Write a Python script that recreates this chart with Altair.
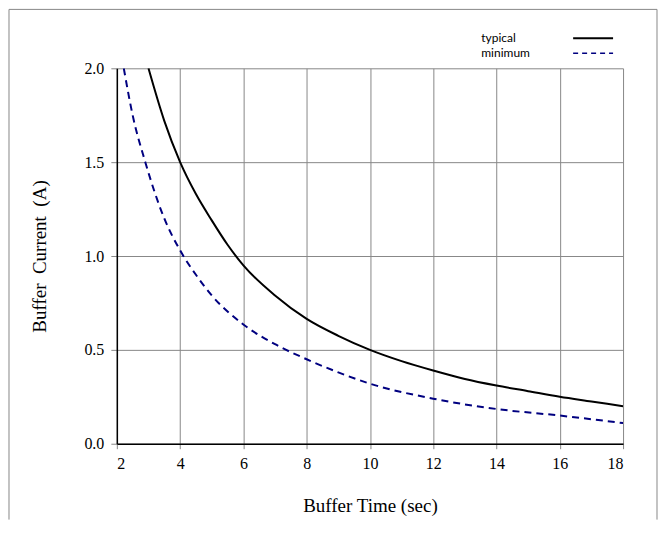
import altair as alt
import pandas as pd

# typical curve
typ_t = [3.0, 3.5, 4.0, 4.5, 5.0, 5.5, 6.0, 7.0, 8.0, 9.0, 10.0, 11.0, 12.0, 13.0, 14.0, 15.0, 16.0, 17.0, 18.0]
typ_i = [2.0, 1.72, 1.5, 1.33, 1.19, 1.06, 0.95, 0.79, 0.665, 0.575, 0.5, 0.44, 0.39, 0.345, 0.31, 0.28, 0.25, 0.225, 0.2]

# minimum curve
min_t = [2.22, 2.5, 2.9, 3.5, 4.0, 4.5, 5.0, 6.0, 7.0, 8.0, 9.0, 10.0, 12.0, 14.0, 16.0, 18.0]
min_i = [2.0, 1.75, 1.5, 1.2, 1.03, 0.9, 0.79, 0.635, 0.53, 0.45, 0.38, 0.32, 0.24, 0.185, 0.15, 0.11]

x_ticks = [2, 4, 6, 8, 10, 12, 14, 16, 18]
y_ticks = [0.0, 0.5, 1.0, 1.5, 2.0]
legend_names = ["typical", "minimum"]

df_typ = pd.DataFrame({"t": typ_t, "i": typ_i})
df_min = pd.DataFrame({"t": min_t, "i": min_i})
one = pd.DataFrame({"a": [0]})

W, H = 507, 376
SERIF = "Liberation Serif"

xenc = alt.X("t:Q", scale=alt.Scale(domain=[2, 18], nice=False, zero=False),
             axis=alt.Axis(values=x_ticks, title="Buffer Time (sec)", titlePadding=25,
                           labelPadding=7, format="d", tickSize=5))
yenc = alt.Y("i:Q", scale=alt.Scale(domain=[0, 2], nice=False),
             axis=alt.Axis(values=y_ticks, title="Buffer\u00a0\u00a0Current\u00a0\u00a0(A)", titlePadding=34,
                           format=".1f", labelPadding=7, tickSize=6))

typ_line = alt.Chart(df_typ).mark_line(color="black", strokeWidth=2, clip=True,
                                       interpolate="monotone").encode(x=xenc, y=yenc)
min_line = alt.Chart(df_min).mark_line(color="#000080", strokeWidth=2, strokeDash=[7, 5], clip=True,
                                       interpolate="monotone").encode(x="t:Q", y="i:Q")

# outer frame (left, top, right)
frame_col = "#888888"
f_left = alt.Chart(one).mark_rule(color=frame_col, strokeWidth=1).encode(
    x=alt.value(-108), y=alt.value(-59), y2=alt.value(452))
f_top = alt.Chart(one).mark_rule(color=frame_col, strokeWidth=1).encode(
    x=alt.value(-108), x2=alt.value(541), y=alt.value(-59))
f_right = alt.Chart(one).mark_rule(color=frame_col, strokeWidth=1).encode(
    x=alt.value(541), y=alt.value(-59), y2=alt.value(452))

# legend
leg_font = "Lato"
leg_t1 = alt.Chart(one).mark_text(text=legend_names[0], font=leg_font, fontSize=12, align="left",
                                  baseline="middle", color="black").encode(
    x=alt.value(365), y=alt.value(-30))
leg_t2 = alt.Chart(one).mark_text(text=legend_names[1], font=leg_font, fontSize=12, align="left",
                                  baseline="middle", color="black").encode(
    x=alt.value(365), y=alt.value(-15))
leg_l1 = alt.Chart(one).mark_rule(color="black", strokeWidth=2).encode(
    x=alt.value(457), x2=alt.value(497), y=alt.value(-30))
leg_l2 = alt.Chart(one).mark_rule(color="#000080", strokeWidth=1.5, strokeDash=[5, 4]).encode(
    x=alt.value(457), x2=alt.value(497), y=alt.value(-15))

chart = alt.layer(typ_line, min_line, f_left, f_top, f_right, leg_t1, leg_t2, leg_l1, leg_l2).properties(
    width=W, height=H, padding=0
).configure_view(strokeWidth=0).configure_axis(
    labelFont=SERIF, labelFontSize=16, labelColor="black",
    titleFont=SERIF, titleFontSize=19, titleFontWeight="normal", titleColor="black",
    domainColor="black", domainWidth=1.5,
    gridColor="#888888", gridWidth=1, gridOpacity=1,
    tickColor="#888888", tickWidth=1
)

chart.save("out.html", embed_options={"renderer": "svg", "actions": False})
